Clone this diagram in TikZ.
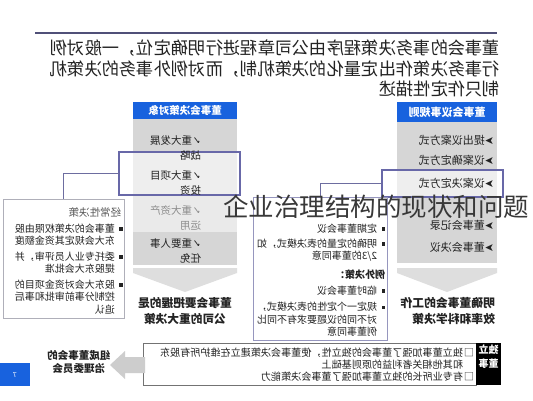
\documentclass[tikz,border=0pt]{standalone}
\usepackage{fontspec}
\setmainfont{Noto Sans CJK SC}
\newfontfamily\dvfont{DejaVu Sans}
\definecolor{hdrblue}{RGB}{24,98,222}
\definecolor{colgray}{RGB}{214,214,214}
\definecolor{colgraylt}{RGB}{234,234,234}
\definecolor{chevgray}{RGB}{222,222,222}
\definecolor{hlborder}{RGB}{104,104,168}
\definecolor{boxborder}{RGB}{150,150,190}
\definecolor{lboxborder}{RGB}{175,175,185}
\definecolor{topline}{RGB}{80,80,120}
\definecolor{inktext}{RGB}{35,35,35}
\definecolor{fadetext}{RGB}{140,140,140}
\definecolor{arrowgray}{RGB}{205,205,205}
\newcommand\mirtab[2]{\reflectbox{\begin{tabular}[t]{@{}#1@{}}#2\end{tabular}}}
\newcommand\cksym{{\dvfont ✓}}
\newcommand\arrsym{{\dvfont ➤}}
\newcommand\bulsym{\makebox[8pt][l]{\rule[1.5pt]{3.5pt}{3.5pt}}}
\newcommand\sqsym{\makebox[11pt][l]{□}}
\begin{document}
\begin{tikzpicture}[x=1pt,y=-1pt,
  box/.style={inner sep=0pt, outer sep=0pt, anchor=north west},
  txt/.style={inner sep=0pt, outer sep=0pt, text=inktext},
  conn/.style={draw=hlborder!80!gray, line width=0.9pt},
  hl/.style={box, draw=hlborder, line width=1.2pt, fill=white, fill opacity=0.6, text opacity=1}]
\useasboundingbox (0,0) rectangle (533,400);
\fill[white] (0,0) rectangle (533,400);

% top rule and paragraph
\coordinate (ruleL) at (35,33);
\coordinate (ruleR) at (497,33);
\draw[topline, line width=2pt] (ruleL) -- (ruleR);
\node[txt, anchor=base east] (para) at (500,54.6) {\fontsize{17.3}{20}\selectfont\mirtab{l}{董事会的事务决策程序由公司章程进行明确定位，一般对例\\行事务决策作出定量化的决策机制，而对例外事务的决策机\\制只作定性描述}};

% left column (decision objects)
\node[box, fill=colgray, minimum width=104pt, minimum height=147pt] (colL) at (133,118) {};
\node[box, fill=colgraylt, minimum width=104pt, minimum height=36pt] (colLband) at (133,196) {};
\node[box, fill=hdrblue, minimum width=104pt, minimum height=17pt, text=white, font=\fontsize{10.5}{12}\selectfont\bfseries] (hdrL) at (133,102) {\reflectbox{董事会决策对象}};
\node[hl, minimum width=121pt, minimum height=43pt] (hlL) at (119,152) {};
\node[txt, anchor=base east] (itL1) at (201,144) {\fontsize{10.5}{15}\selectfont\mirtab{l}{\cksym 重大发展\\战略}};
\node[txt, anchor=base east] (itL2) at (201,179) {\fontsize{10.5}{15}\selectfont\mirtab{l}{\cksym 重大项目\\投资}};
\node[txt, anchor=base east, text=fadetext] (itL3) at (201,214) {\fontsize{10.5}{15}\selectfont\mirtab{l}{\cksym 重大资产\\运用}};
\node[txt, anchor=base east] (itL4) at (201,247) {\fontsize{10.5}{15}\selectfont\mirtab{l}{\cksym 重要人事\\任免}};
\fill[chevgray] (133,268) -- (237,268) -- (237,273) -- (185,292) -- (133,273) -- cycle;
\node[txt, anchor=base, font=\fontsize{11.7}{15.5}\selectfont\bfseries] (outL) at (185,307.5) {\mirtab{c}{董事会要把握的是\\公司的重大决策}};

% right column (rules of procedure)
\node[box, fill=colgray, minimum width=100pt, minimum height=141pt] (colR) at (397,122) {};
\node[box, fill=hdrblue, minimum width=100pt, minimum height=20pt, text=white, font=\fontsize{11}{12}\selectfont\bfseries] (hdrR) at (397,102) {\reflectbox{董事会议事规则}};
\node[hl, minimum width=121pt, minimum height=27pt] (hlR) at (382,170) {};
\node[txt, anchor=base east, font=\fontsize{11}{13}\selectfont] (itR1) at (494,144.2) {\reflectbox{\arrsym 提出议案方式}};
\node[txt, anchor=base east, font=\fontsize{11}{13}\selectfont] (itR2) at (494,164.2) {\reflectbox{\arrsym 议案确定方式}};
\node[txt, anchor=base east, font=\fontsize{11}{13}\selectfont] (itR3) at (494,187.2) {\reflectbox{\arrsym 议案决定方式}};
\node[txt, anchor=base east, font=\fontsize{11}{13}\selectfont] (itR5) at (494,229.2) {\reflectbox{\arrsym 董事会记录}};
\node[txt, anchor=base east, font=\fontsize{11}{13}\selectfont] (itR6) at (494,251.2) {\reflectbox{\arrsym 董事会决议}};
\fill[chevgray] (397,268) -- (497,268) -- (497,273) -- (447,292) -- (397,273) -- cycle;
\node[txt, anchor=base east, font=\fontsize{11.8}{16}\selectfont\bfseries] (outR) at (495,307.5) {\mirtab{l}{明确董事会的工作\\效率和科学决策}};

% left box: routine decisions
\node[box, draw=lboxborder, line width=0.8pt, fill=white, minimum width=121pt, minimum height=119pt] (regL) at (3,199) {};
\node[txt, anchor=base east, text=black!65, font=\fontsize{10.5}{12}\selectfont] (regT) at (121,216) {\reflectbox{经常性决策}};
\node[txt, anchor=base east, font=\fontsize{10}{12.5}\selectfont] (regB) at (123,232) {\mirtab{l}{\bulsym 董事会的决策权限由股\\\hspace{8pt}东大会规定其资金额度\\[3pt]\bulsym 委托专业人员评审，并\\\hspace{8pt}提股东大会批准\\[3pt]\bulsym 股东大会对资金项目的\\\hspace{8pt}控制分事前审批和事后\\\hspace{8pt}追认}};

% middle box
\node[box, draw=boxborder, line width=1pt, fill=white, minimum width=134pt, minimum height=143pt] (midbox) at (253,197) {};
\node[txt, anchor=base east, font=\fontsize{10}{12.5}\selectfont] (midT) at (385,232) {\mirtab{l}{\bulsym 定期董事会议\\[2.5pt]\bulsym 明确的定量的表决模式，如\\\hspace{8pt}2/3的董事同意\\[6pt]\textbf{例外决策：}\\[3.5pt]\bulsym 临时董事会议\\[4pt]\bulsym 规定一个定性的表决模式，\\\hspace{8pt}对不同的议题要求有不同比\\\hspace{8pt}例董事同意}};

% connectors
\draw[conn] (hlL.west) -| (regL.north);
\draw[conn] (hlR.west) -| (midbox.north);

% bottom box: independent directors
\node[box, draw=black!55, line width=0.8pt, fill=white, minimum width=333pt, minimum height=42pt] (indep) at (143,343) {};
\node[box, fill=black, minimum width=25pt, minimum height=42pt] (indepH) at (476,343) {};
\node[txt, text=white, font=\fontsize{10}{14}\selectfont\bfseries] (indepT) at (488.5,358) {\mirtab{c}{独立\\董事}};
\node[txt, anchor=base east, font=\fontsize{10.1}{11.5}\selectfont] (indepB) at (474,356.8) {\mirtab{l}{\sqsym 独立董事加强了董事会的独立性，使董事会决策建立在维护所有股东\\\hspace{11pt}和其他相关者利益的原则基础上\\\sqsym 有专业所长的独立董事加强了董事会决策能力}};

% arrow to governance committees
\fill[arrowgray] (145,357) -- (125,357) -- (125,351) -- (110,365) -- (125,379) -- (125,373) -- (145,373) -- cycle;
\node[txt, anchor=base, font=\fontsize{10.5}{13}\selectfont\bfseries] (gov) at (79,359) {\mirtab{c}{组成董事会的\\治理委员会}};

% page number
\node[box, fill=hdrblue, minimum width=30pt, minimum height=23pt, text=white, font=\fontsize{7}{8}\selectfont] (pg) at (0,363) {\reflectbox{7}};

% overlay title
\node[txt, text=black!78, font=\fontsize{25.5}{28}\selectfont] (title) at (376,207) {企业治理结构的现状和问题};
\end{tikzpicture}
\end{document}
